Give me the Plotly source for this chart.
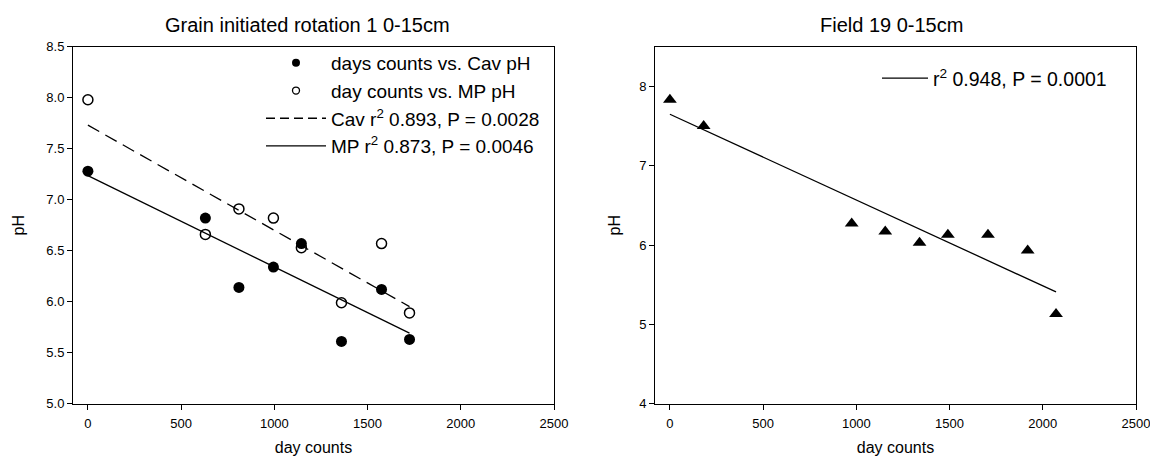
import numpy as np
import plotly.graph_objects as go

# ---- data ----
days_left = [0, 630, 810, 995, 1145, 1360, 1575, 1725]
cav_ph = [7.28, 6.82, 6.14, 6.34, 6.57, 5.61, 6.12, 5.63]
mp_ph = [7.98, 6.66, 6.91, 6.82, 6.53, 5.99, 6.57, 5.89]

days_right = [0, 181, 975, 1155, 1339, 1491, 1706, 1919, 2071]
field19_ph = [7.83, 7.50, 6.27, 6.17, 6.03, 6.13, 6.13, 5.93, 5.13]

x_ticks = [0, 500, 1000, 1500, 2000, 2500]
left_y_ticks = [5.0, 5.5, 6.0, 6.5, 7.0, 7.5, 8.0, 8.5]
right_y_ticks = [4, 5, 6, 7, 8]

title_left = "Grain initiated rotation 1 0-15cm"
title_right = "Field 19 0-15cm"
label_cav_pts = "days counts vs. Cav pH"
label_mp_pts = "day counts vs. MP pH"
label_dash = "Cav r<sup>2</sup> 0.893, P = 0.0028"
label_solid = "MP r<sup>2</sup> 0.873, P = 0.0046"
label_right = "r<sup>2</sup> 0.948, P = 0.0001"

FONT = "Liberation Sans, Arial, Helvetica, sans-serif"
INK = "#000000"


def fit_line(x, y):
    p = np.polyfit(x, y, 1)
    xs = np.array([min(x), max(x)], dtype=float)
    return xs, np.polyval(p, xs)


fig = go.Figure()

# left panel: fit lines
xd, yd = fit_line(days_left, mp_ph)
fig.add_trace(go.Scatter(x=xd, y=yd, mode="lines", showlegend=False,
                         line=dict(color=INK, width=1.3, dash="13px,7px"),
                         xaxis="x", yaxis="y"))
xs_, ys_ = fit_line(days_left, cav_ph)
fig.add_trace(go.Scatter(x=xs_, y=ys_, mode="lines", showlegend=False,
                         line=dict(color=INK, width=1.3),
                         xaxis="x", yaxis="y"))
# left panel: points
fig.add_trace(go.Scatter(x=days_left, y=cav_ph, mode="markers", showlegend=False,
                         marker=dict(symbol="circle", size=11, color=INK),
                         xaxis="x", yaxis="y"))
fig.add_trace(go.Scatter(x=days_left, y=mp_ph, mode="markers", showlegend=False,
                         marker=dict(symbol="circle-open", size=10, color=INK,
                                     line=dict(width=1.5, color=INK)),
                         xaxis="x", yaxis="y"))

# left legend entries
fig.add_trace(go.Scatter(x=[None], y=[None], mode="markers", name=label_cav_pts,
                         marker=dict(symbol="circle", size=8, color=INK),
                         legend="legend", xaxis="x", yaxis="y"))
fig.add_trace(go.Scatter(x=[None], y=[None], mode="markers", name=label_mp_pts,
                         marker=dict(symbol="circle-open", size=7, color=INK,
                                     line=dict(width=1.3, color=INK)),
                         legend="legend", xaxis="x", yaxis="y"))
fig.add_trace(go.Scatter(x=[None], y=[None], mode="lines", name=label_dash,
                         line=dict(color=INK, width=1.3, dash="9px,5px"),
                         legend="legend", xaxis="x", yaxis="y"))
fig.add_trace(go.Scatter(x=[None], y=[None], mode="lines", name=label_solid,
                         line=dict(color=INK, width=1.3),
                         legend="legend", xaxis="x", yaxis="y"))

# right panel
xr, yr = fit_line(days_right, field19_ph)
fig.add_trace(go.Scatter(x=xr, y=yr, mode="lines", name=label_right,
                         line=dict(color=INK, width=1.3),
                         legend="legend2", xaxis="x2", yaxis="y2"))
fig.add_trace(go.Scatter(x=days_right, y=field19_ph, mode="markers", showlegend=False,
                         marker=dict(symbol="triangle-up", size=12, color=INK),
                         xaxis="x2", yaxis="y2"))

W, H = 1150, 456
top_px, bot_px = 46.7, 403.7
ydom = [1 - bot_px / H, 1 - top_px / H]

axis_common = dict(showline=True, linecolor=INK, linewidth=1, mirror=True,
                   ticks="outside", ticklen=5, tickwidth=1, tickcolor=INK,
                   showgrid=False, zeroline=False, automargin=False,
                   ticklabeloverflow="allow",
                   tickfont=dict(family=FONT, size=13, color=INK))

fig.update_layout(
    width=W, height=H,
    margin=dict(l=0, r=0, t=0, b=0),
    paper_bgcolor="white", plot_bgcolor="white",
    font=dict(family=FONT, color=INK),
    xaxis=dict(domain=[73 / W, 554 / W], range=[-80, 2500], tickvals=x_ticks,
               ticklabelstandoff=3,
               title=dict(text="day counts", font=dict(size=16), standoff=11),
               anchor="y", **axis_common),
    yaxis=dict(domain=ydom, range=[5.0, 8.5], tickvals=left_y_ticks, tickformat=".1f",
               title=dict(text="pH", font=dict(size=16), standoff=17),
               anchor="x", **axis_common),
    xaxis2=dict(domain=[655 / W, 1136 / W], range=[-80, 2500], tickvals=x_ticks,
                ticklabelstandoff=3,
                title=dict(text="day counts", font=dict(size=16), standoff=11),
                anchor="y2", **axis_common),
    yaxis2=dict(domain=ydom, range=[4, 8.5], tickvals=right_y_ticks,
                title=dict(text="pH", font=dict(size=16), standoff=14),
                anchor="x2", **axis_common),
    legend=dict(x=261 / W, y=1 - 44 / H, xanchor="left", yanchor="top",
                bgcolor="rgba(0,0,0,0)", borderwidth=0, itemwidth=60,
                tracegroupgap=0, font=dict(family=FONT, size=19, color=INK)),
    legend2=dict(x=877 / W, y=1 - 59 / H, xanchor="left", yanchor="top",
                 bgcolor="rgba(0,0,0,0)", borderwidth=0, itemwidth=46,
                 font=dict(family=FONT, size=19.5, color=INK)),
    annotations=[
        dict(text=title_left, x=308 / W, y=1 - 25 / H, xref="paper", yref="paper",
             xanchor="center", yanchor="middle", showarrow=False,
             font=dict(family=FONT, size=20, color=INK)),
        dict(text=title_right, x=891 / W, y=1 - 25 / H, xref="paper", yref="paper",
             xanchor="center", yanchor="middle", showarrow=False,
             font=dict(family=FONT, size=20, color=INK)),
    ],
)

fig.write_html("out.html")
